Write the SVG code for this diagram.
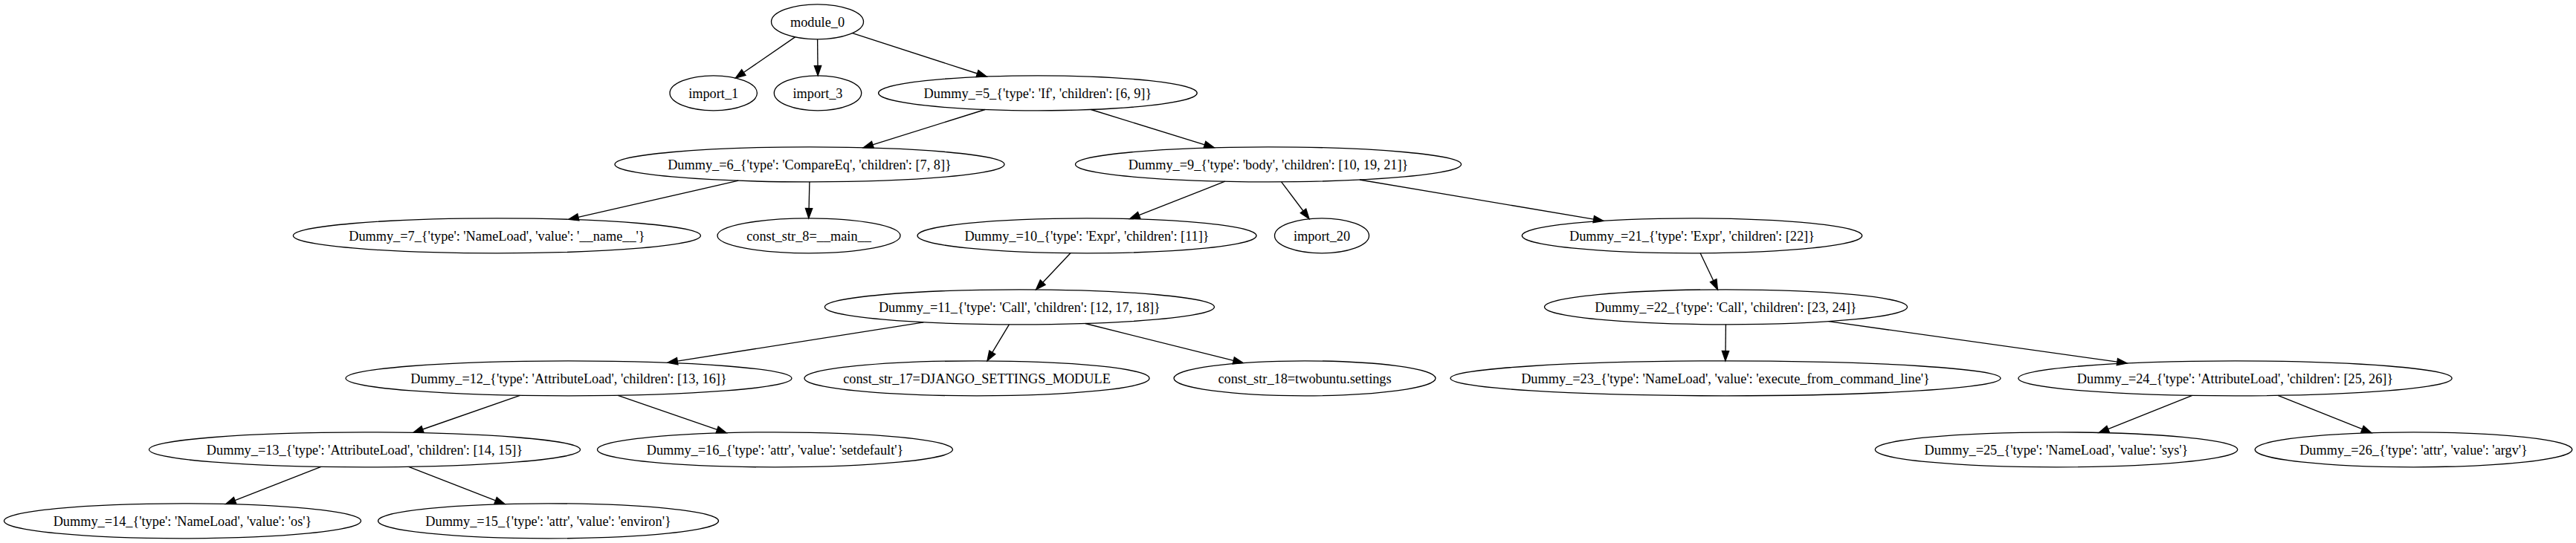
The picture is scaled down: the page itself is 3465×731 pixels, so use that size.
<svg xmlns="http://www.w3.org/2000/svg" width="3465" height="731" viewBox="0 0 3465 731">
<style>
.n ellipse{fill:none;stroke:#000;stroke-width:1.33}
.n text{font-family:"Liberation Serif","Times New Roman",serif;font-size:18.3px;text-anchor:middle;fill:#000}
.e line{stroke:#000;stroke-width:1.33;marker-end:url(#ah)}
</style>
<defs>
<marker id="ah" markerUnits="userSpaceOnUse" markerWidth="16" markerHeight="12" refX="0" refY="0" viewBox="-1 -6 16 12" orient="auto" overflow="visible">
<path d="M0,-4.67 L13.33,0 L0,4.67 Z" fill="#000" stroke="#000" stroke-width="1.33"/>
</marker>
</defs>
<rect width="3465" height="731" fill="#fff"/>
<g id="edges" class="e">
<line x1="1069.5" y1="49.9" x2="1000.3" y2="97.5"/>
<line x1="1099.6" y1="52.8" x2="1100" y2="88.5"/>
<line x1="1146.6" y1="44.6" x2="1314.5" y2="99"/>
<line x1="1325" y1="147.5" x2="1173.9" y2="194.8"/>
<line x1="1467.5" y1="147.5" x2="1620.4" y2="194.8"/>
<line x1="993.2" y1="243.2" x2="777.8" y2="292.4"/>
<line x1="1088.9" y1="244.8" x2="1088.1" y2="280.5"/>
<line x1="1647.8" y1="244.2" x2="1532.2" y2="289.7"/>
<line x1="1723.6" y1="244.8" x2="1753" y2="284"/>
<line x1="1828.9" y1="242" x2="2143.7" y2="295.1"/>
<line x1="1439.9" y1="340.7" x2="1402.7" y2="380.2"/>
<line x1="1242.3" y1="433.8" x2="911.2" y2="486.2"/>
<line x1="1357.4" y1="436.8" x2="1334.8" y2="474.4"/>
<line x1="1459.8" y1="435.5" x2="1659.2" y2="485.4"/>
<line x1="699.4" y1="532.3" x2="568.5" y2="578"/>
<line x1="831.3" y1="532.3" x2="964.6" y2="578.4"/>
<line x1="431.8" y1="628.3" x2="316.1" y2="673.7"/>
<line x1="549.7" y1="628.3" x2="666.6" y2="673.8"/>
<line x1="2287.1" y1="340.8" x2="2304.7" y2="377.8"/>
<line x1="2321.4" y1="436.8" x2="2321" y2="472.5"/>
<line x1="2459.7" y1="432.7" x2="2847.9" y2="487.1"/>
<line x1="2948.8" y1="532.4" x2="2835.6" y2="577.6"/>
<line x1="3064.1" y1="532.4" x2="3177.5" y2="577.7"/>
</g>
<g id="module_0" class="n"><ellipse cx="1099.5" cy="29.33" rx="62" ry="23.5"/><text x="1099.5" y="35.5">module_0</text></g>
<g id="import_1" class="n"><ellipse cx="959.7" cy="125.33" rx="58.7" ry="23.5"/><text x="959.7" y="131.5">import_1</text></g>
<g id="import_3" class="n"><ellipse cx="1100" cy="125.33" rx="58.7" ry="23.5"/><text x="1100" y="131.5">import_3</text></g>
<g id="dummy_5" class="n"><ellipse cx="1395.9" cy="125.33" rx="214.3" ry="23.5"/><text x="1395.9" y="131.5">Dummy_=5_{'type': 'If', 'children': [6, 9]}</text></g>
<g id="dummy_6" class="n"><ellipse cx="1089" cy="221.33" rx="262" ry="23.5"/><text x="1089" y="227.5">Dummy_=6_{'type': 'CompareEq', 'children': [7, 8]}</text></g>
<g id="dummy_9" class="n"><ellipse cx="1706" cy="221.33" rx="259.5" ry="23.5"/><text x="1706" y="227.5">Dummy_=9_{'type': 'body', 'children': [10, 19, 21]}</text></g>
<g id="dummy_7" class="n"><ellipse cx="668.4" cy="317.33" rx="274" ry="23.5"/><text x="668.4" y="323.5">Dummy_=7_{'type': 'NameLoad', 'value': '__name__'}</text></g>
<g id="const_str_8" class="n"><ellipse cx="1088" cy="317.33" rx="123" ry="23.5"/><text x="1088" y="323.5">const_str_8=__main__</text></g>
<g id="dummy_10" class="n"><ellipse cx="1462" cy="317.33" rx="228" ry="23.5"/><text x="1462" y="323.5">Dummy_=10_{'type': 'Expr', 'children': [11]}</text></g>
<g id="import_20" class="n"><ellipse cx="1778" cy="317.33" rx="63.5" ry="23.5"/><text x="1778" y="323.5">import_20</text></g>
<g id="dummy_21" class="n"><ellipse cx="2276" cy="317.33" rx="228.7" ry="23.5"/><text x="2276" y="323.5">Dummy_=21_{'type': 'Expr', 'children': [22]}</text></g>
<g id="dummy_11" class="n"><ellipse cx="1371.4" cy="413.33" rx="262" ry="23.5"/><text x="1371.4" y="419.5">Dummy_=11_{'type': 'Call', 'children': [12, 17, 18]}</text></g>
<g id="dummy_22" class="n"><ellipse cx="2321.5" cy="413.33" rx="244" ry="23.5"/><text x="2321.5" y="419.5">Dummy_=22_{'type': 'Call', 'children': [23, 24]}</text></g>
<g id="dummy_12" class="n"><ellipse cx="765" cy="509.33" rx="300" ry="23.5"/><text x="765" y="515.5">Dummy_=12_{'type': 'AttributeLoad', 'children': [13, 16]}</text></g>
<g id="const_str_17" class="n"><ellipse cx="1314" cy="509.33" rx="232" ry="23.5"/><text x="1314" y="515.5">const_str_17=DJANGO_SETTINGS_MODULE</text></g>
<g id="const_str_18" class="n"><ellipse cx="1755" cy="509.33" rx="176" ry="23.5"/><text x="1755" y="515.5">const_str_18=twobuntu.settings</text></g>
<g id="dummy_23" class="n"><ellipse cx="2321" cy="509.33" rx="370" ry="23.5"/><text x="2321" y="515.5">Dummy_=23_{'type': 'NameLoad', 'value': 'execute_from_command_line'}</text></g>
<g id="dummy_24" class="n"><ellipse cx="3006.5" cy="509.33" rx="291.6" ry="23.5"/><text x="3006.5" y="515.5">Dummy_=24_{'type': 'AttributeLoad', 'children': [25, 26]}</text></g>
<g id="dummy_13" class="n"><ellipse cx="490.5" cy="605.33" rx="290" ry="23.5"/><text x="490.5" y="611.5">Dummy_=13_{'type': 'AttributeLoad', 'children': [14, 15]}</text></g>
<g id="dummy_16" class="n"><ellipse cx="1042.5" cy="605.33" rx="239" ry="23.5"/><text x="1042.5" y="611.5">Dummy_=16_{'type': 'attr', 'value': 'setdefault'}</text></g>
<g id="dummy_25" class="n"><ellipse cx="2766" cy="605.33" rx="243.7" ry="23.5"/><text x="2766" y="611.5">Dummy_=25_{'type': 'NameLoad', 'value': 'sys'}</text></g>
<g id="dummy_26" class="n"><ellipse cx="3246.5" cy="605.33" rx="213.3" ry="23.5"/><text x="3246.5" y="611.5">Dummy_=26_{'type': 'attr', 'value': 'argv'}</text></g>
<g id="dummy_14" class="n"><ellipse cx="245.5" cy="701.33" rx="240" ry="23.5"/><text x="245.5" y="707.5">Dummy_=14_{'type': 'NameLoad', 'value': 'os'}</text></g>
<g id="dummy_15" class="n"><ellipse cx="737.5" cy="701.33" rx="229" ry="23.5"/><text x="737.5" y="707.5">Dummy_=15_{'type': 'attr', 'value': 'environ'}</text></g>
</svg>
